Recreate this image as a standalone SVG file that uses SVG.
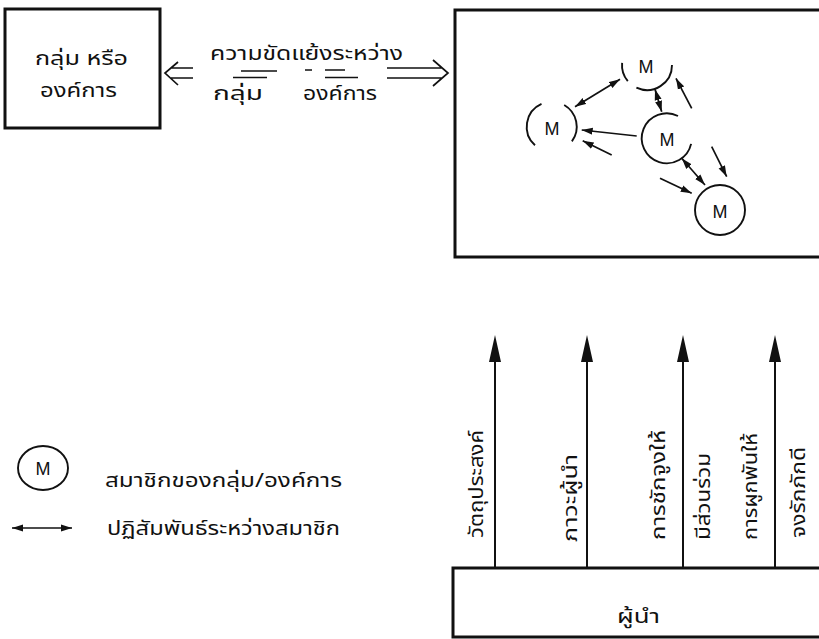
<svg xmlns="http://www.w3.org/2000/svg" width="819" height="639" viewBox="0 0 819 639">
<style>
.box{fill:none;stroke:#111;stroke-width:3}
.ln{fill:none;stroke:#111;stroke-width:1.7}
.vl{fill:none;stroke:#111;stroke-width:2}
.arc{fill:none;stroke:#111;stroke-width:1.9}
.th{font-family:"Noto Sans Thai","Tlwg Typo","Loma","Garuda","Noto Sans","DejaVu Sans",sans-serif;font-size:20px;fill:#111}
.m{font-family:"Liberation Sans",sans-serif;font-size:18px;fill:#111;text-anchor:middle}
.hd{fill:#111}
</style>
<defs>
<marker id="ah" viewBox="0 0 11 8" refX="11" refY="4" markerWidth="11" markerHeight="8" markerUnits="userSpaceOnUse" orient="auto-start-reverse"><path d="M0,0.5 L11,4 L0,7.5 z" fill="#111"/></marker>
</defs>

<g id="group-box">
<rect class="box" x="5" y="9" width="155" height="119"/>
<text class="th" x="35" y="65" textLength="93" lengthAdjust="spacingAndGlyphs">กลุ่ม หรือ</text>
<text class="th" x="40" y="97" textLength="77" lengthAdjust="spacingAndGlyphs">องค์การ</text>
</g>

<g id="conflict-label">
<text class="th" x="210" y="60" textLength="193" lengthAdjust="spacingAndGlyphs">ความขัดแย้งระหว่าง</text>
<path class="ln" d="M241,71 H277 M233,77.5 H267 M305,70 H312 M325,70 H345 M325,77.5 H358"/>
<text class="th" x="213" y="100" textLength="50" lengthAdjust="spacingAndGlyphs">กลุ่ม</text>
<text class="th" x="303" y="100" textLength="74" lengthAdjust="spacingAndGlyphs">องค์การ</text>
</g>

<g id="org-box">
<rect class="box" x="455" y="10" width="400" height="247"/>
</g>

<g id="m-top">
<path class="arc" d="M672,65 A25,25 0 0 1 636.4,87.7 M627.8,81.1 A25,25 0 0 1 622.1,62.8"/>
<text class="m" x="646" y="73">M</text>
</g>
<g id="m-left">
<path class="arc" d="M535,145.3 A25,25 0 0 1 541.5,103.9 M564.2,105 A25,25 0 0 1 571.9,141.4"/>
<text class="m" x="552" y="135">M</text>
</g>
<g id="m-mid">
<path class="arc" d="M691.1,143.9 A25,25 0 1 1 678,116"/>
<text class="m" x="667" y="146">M</text>
</g>
<g id="m-bottom">
<circle class="arc" cx="720" cy="210" r="25"/>
<text class="m" x="720" y="218">M</text>
</g>

<g id="legend">
<ellipse class="arc" cx="43" cy="468" rx="25" ry="22"/>
<text class="m" x="43" y="475">M</text>
<text class="th" x="105" y="487" textLength="237" lengthAdjust="spacingAndGlyphs">สมาชิกของกลุ่ม/องค์การ</text>
<text class="th" x="107" y="535" textLength="233" lengthAdjust="spacingAndGlyphs">ปฏิสัมพันธ์ระหว่างสมาชิก</text>
</g>

<g id="leader-box">
<rect class="box" x="453" y="568" width="400" height="69"/>
<text class="th" x="617" y="623" textLength="43" lengthAdjust="spacingAndGlyphs">ผู้นำ</text>
</g>

<g id="labels">
<text class="th" transform="translate(483,538) rotate(-90)" textLength="108" lengthAdjust="spacingAndGlyphs">วัตถุประสงค์</text>
<text class="th" transform="translate(577,542) rotate(-90)" textLength="88" lengthAdjust="spacingAndGlyphs">ภาวะผู้นำ</text>
<text class="th" transform="translate(665,540) rotate(-90)" textLength="110" lengthAdjust="spacingAndGlyphs">การชักจูงให้</text>
<text class="th" transform="translate(710,540) rotate(-90)" textLength="87" lengthAdjust="spacingAndGlyphs">มีส่วนร่วม</text>
<text class="th" transform="translate(757,540) rotate(-90)" textLength="107" lengthAdjust="spacingAndGlyphs">การผูกพันให้</text>
<text class="th" transform="translate(805,538) rotate(-90)" textLength="91" lengthAdjust="spacingAndGlyphs">จงรักภักดี</text>
</g>

<g id="connectors">
<path class="ln" d="M178,62 L165,73 L178,85 M171,68 H193 M171,78 H193"/>
<path class="ln" d="M387,68 H442 M387,78 H442 M433,60 L448,73 L433,86"/>
<line class="ln" x1="575" y1="106.7" x2="620" y2="79.3" marker-start="url(#ah)" marker-end="url(#ah)"/>
<line class="ln" x1="655" y1="89.3" x2="661.7" y2="111.7" marker-start="url(#ah)" marker-end="url(#ah)"/>
<line class="ln" x1="636.7" y1="136" x2="581.7" y2="130" marker-end="url(#ah)"/>
<line class="ln" x1="611.7" y1="155" x2="582.7" y2="140.7" marker-end="url(#ah)"/>
<line class="ln" x1="691.7" y1="108.3" x2="676" y2="78.3" marker-end="url(#ah)"/>
<line class="ln" x1="681.7" y1="158.3" x2="705" y2="185" marker-start="url(#ah)" marker-end="url(#ah)"/>
<line class="ln" x1="711.7" y1="146.7" x2="726.7" y2="176.7" marker-end="url(#ah)"/>
<line class="ln" x1="660" y1="178.3" x2="691.7" y2="193.3" marker-end="url(#ah)"/>
<line class="ln" x1="12" y1="528" x2="72" y2="528" marker-start="url(#ah)" marker-end="url(#ah)"/>
<path class="vl" d="M495,567 V356 M587,567 V356 M683,567 V356 M775,567 V356"/>
<path class="hd" d="M495,335 L501,362 L489,362 z M587,335 L593,362 L581,362 z M683,335 L689,362 L677,362 z M775,335 L781,362 L769,362 z"/>
</g>
</svg>
